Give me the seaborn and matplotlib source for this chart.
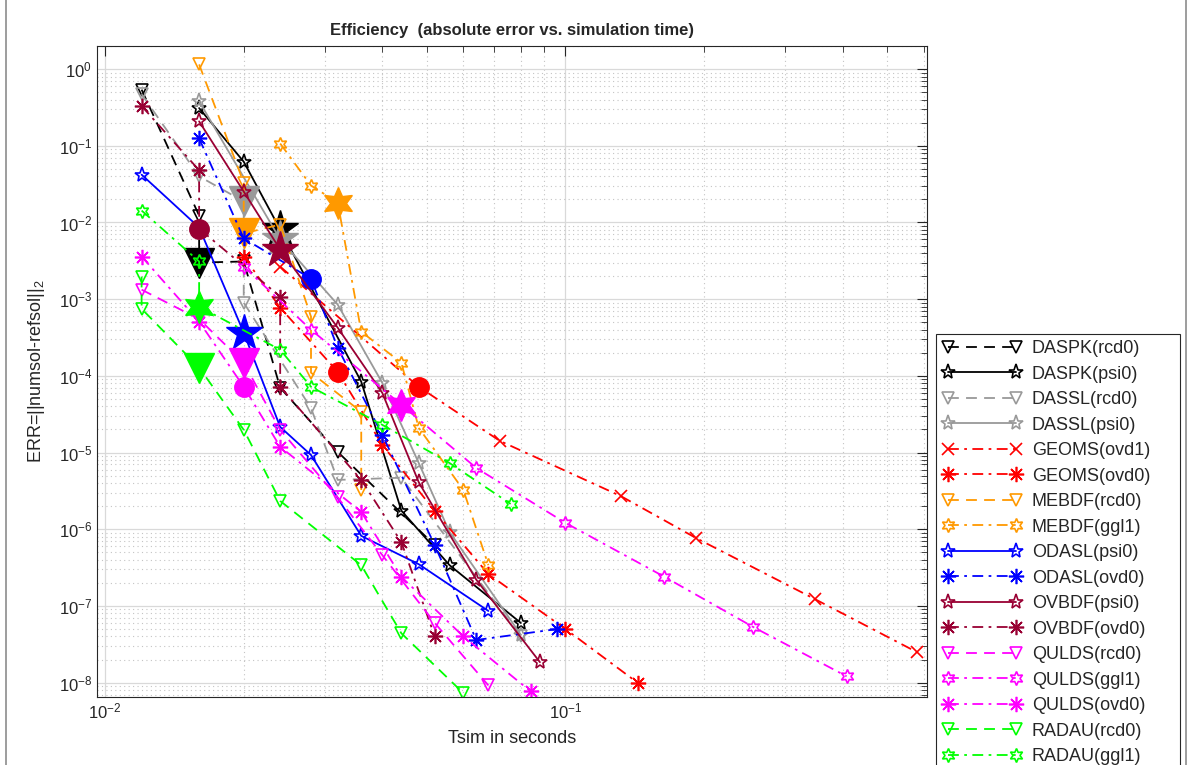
import matplotlib
matplotlib.use("Agg")
import numpy as np
import pandas as pd
import matplotlib.pyplot as plt
from matplotlib.lines import Line2D
from matplotlib.ticker import LogLocator, NullFormatter
import seaborn as sns

# simulation time [s] and error per solver/setting
t_daspk_rcd0 = [0.012, 0.016, 0.016, 0.020, 0.024, 0.032, 0.052]
e_daspk_rcd0 = [0.54, 0.0123, 0.0030, 0.0031, 7.0e-5, 1.02e-5, 6.2e-7]
t_daspk_psi0 = [0.016, 0.020, 0.024, 0.036, 0.044, 0.056, 0.080]
e_daspk_psi0 = [0.31, 0.062, 0.0081, 8.4e-5, 1.75e-6, 3.4e-7, 6.0e-8]
t_dassl_rcd0 = [0.012, 0.016, 0.020, 0.020, 0.028, 0.032, 0.044, 0.080]
e_dassl_rcd0 = [0.47, 0.040, 0.0188, 9.0e-4, 3.8e-5, 4.4e-6, 4.7e-6, 4.0e-8]
t_dassl_psi0 = [0.016, 0.024, 0.032, 0.040, 0.048, 0.056, 0.080]
e_dassl_psi0 = [0.38, 0.0060, 8.5e-4, 8.1e-5, 7.3e-6, 9.2e-7, 4.2e-8]
t_geoms_ovd1 = [0.024, 0.048, 0.072, 0.132, 0.192, 0.348, 0.580]
e_geoms_ovd1 = [0.00266, 7.2e-5, 1.42e-5, 2.7e-6, 7.7e-7, 1.23e-7, 2.5e-8]
t_geoms_ovd0 = [0.020, 0.024, 0.032, 0.040, 0.052, 0.068, 0.100, 0.144]
e_geoms_ovd0 = [0.0036, 7.75e-4, 1.13e-4, 1.26e-5, 1.73e-6, 2.6e-7, 5.0e-8, 9.8e-9]
t_mebdf_rcd0 = [0.016, 0.020, 0.020, 0.024, 0.028, 0.028, 0.036, 0.036]
e_mebdf_rcd0 = [1.15, 0.033, 0.0072, 0.0094, 5.9e-4, 1.1e-4, 3.4e-5, 3.25e-6]
t_mebdf_ggl1 = [0.024, 0.028, 0.032, 0.036, 0.044, 0.048, 0.060, 0.068]
e_mebdf_ggl1 = [0.107, 0.0303, 0.0182, 3.77e-4, 1.48e-4, 2.1e-5, 3.25e-6, 3.4e-7]
t_odasl_psi0 = [0.012, 0.016, 0.020, 0.024, 0.028, 0.036, 0.048, 0.068]
e_odasl_psi0 = [0.042, 0.0086, 3.66e-4, 2.16e-5, 9.3e-6, 8.2e-7, 3.5e-7, 8.6e-8]
t_odasl_ovd0 = [0.016, 0.020, 0.028, 0.032, 0.040, 0.052, 0.064, 0.096]
e_odasl_ovd0 = [0.125, 0.0062, 0.00185, 2.33e-4, 1.70e-5, 6.2e-7, 3.6e-8, 5.0e-8]
t_ovbdf_psi0 = [0.016, 0.020, 0.024, 0.032, 0.040, 0.048, 0.064, 0.088]
e_ovbdf_psi0 = [0.208, 0.0253, 0.00443, 4.25e-4, 6.0e-5, 4.1e-6, 2.2e-7, 1.85e-8]
t_ovbdf_ovd0 = [0.012, 0.016, 0.016, 0.024, 0.024, 0.036, 0.044, 0.052]
e_ovbdf_ovd0 = [0.33, 0.048, 0.0083, 0.00108, 7.2e-5, 4.4e-6, 6.8e-7, 4.0e-8]
t_qulds_rcd0 = [0.012, 0.016, 0.020, 0.024, 0.032, 0.040, 0.052, 0.068]
e_qulds_rcd0 = [0.00133, 5.5e-4, 1.48e-4, 1.98e-5, 2.6e-6, 4.6e-7, 6.0e-8, 9.2e-9]
t_qulds_ggl1 = [0.020, 0.028, 0.044, 0.064, 0.100, 0.164, 0.256, 0.408]
e_qulds_ggl1 = [0.00266, 4.0e-4, 4.2e-5, 6.3e-6, 1.21e-6, 2.4e-7, 5.3e-8, 1.21e-8]
t_qulds_ovd0 = [0.012, 0.016, 0.020, 0.024, 0.036, 0.044, 0.060, 0.084]
e_qulds_ovd0 = [0.0036, 5.1e-4, 7.2e-5, 1.19e-5, 1.68e-6, 2.4e-7, 4.0e-8, 7.7e-9]
t_radau_rcd0 = [0.012, 0.012, 0.016, 0.020, 0.024, 0.036, 0.044, 0.060]
e_radau_rcd0 = [0.00197, 7.5e-4, 1.28e-4, 1.98e-5, 2.34e-6, 3.4e-7, 4.4e-8, 7.3e-9]
t_radau_ggl1 = [0.012, 0.016, 0.016, 0.024, 0.028, 0.040, 0.056, 0.076]
e_radau_ggl1 = [0.0143, 0.0031, 8.0e-4, 2.19e-4, 7.2e-5, 2.3e-5, 7.3e-6, 2.14e-6]

# index of the highlighted (default tolerance) point of each run
hi_idx = [2, 2, 2, 1, 1, 2, 2, 2, 2, 2, 2, 2, 2, 2, 2, 2, 2]

BLACK = "#000000"
GRAY = "#999999"
RED = "#ff0000"
ORANGE = "#ff9900"
BLUE = "#0000ff"
MAROON = "#990033"
MAGENTA = "#ff00ff"
GREEN = "#00ff00"

DASH = (0, (6, 4))
DASHDOT = (0, (6, 3, 1.5, 3))
TRI = "v"
PENT = "*"
HEXA = (6, 1, 0)
AST = (8, 2, 0)

runs = [
    ("DASPK(rcd0)", t_daspk_rcd0, e_daspk_rcd0, BLACK, DASH, TRI),
    ("DASPK(psi0)", t_daspk_psi0, e_daspk_psi0, BLACK, "-", PENT),
    ("DASSL(rcd0)", t_dassl_rcd0, e_dassl_rcd0, GRAY, DASH, TRI),
    ("DASSL(psi0)", t_dassl_psi0, e_dassl_psi0, GRAY, "-", PENT),
    ("GEOMS(ovd1)", t_geoms_ovd1, e_geoms_ovd1, RED, DASHDOT, "x"),
    ("GEOMS(ovd0)", t_geoms_ovd0, e_geoms_ovd0, RED, DASHDOT, AST),
    ("MEBDF(rcd0)", t_mebdf_rcd0, e_mebdf_rcd0, ORANGE, DASH, TRI),
    ("MEBDF(ggl1)", t_mebdf_ggl1, e_mebdf_ggl1, ORANGE, DASHDOT, HEXA),
    ("ODASL(psi0)", t_odasl_psi0, e_odasl_psi0, BLUE, "-", PENT),
    ("ODASL(ovd0)", t_odasl_ovd0, e_odasl_ovd0, BLUE, DASHDOT, AST),
    ("OVBDF(psi0)", t_ovbdf_psi0, e_ovbdf_psi0, MAROON, "-", PENT),
    ("OVBDF(ovd0)", t_ovbdf_ovd0, e_ovbdf_ovd0, MAROON, DASHDOT, AST),
    ("QULDS(rcd0)", t_qulds_rcd0, e_qulds_rcd0, MAGENTA, DASH, TRI),
    ("QULDS(ggl1)", t_qulds_ggl1, e_qulds_ggl1, MAGENTA, DASHDOT, HEXA),
    ("QULDS(ovd0)", t_qulds_ovd0, e_qulds_ovd0, MAGENTA, DASHDOT, AST),
    ("RADAU(rcd0)", t_radau_rcd0, e_radau_rcd0, GREEN, DASH, TRI),
    ("RADAU(ggl1)", t_radau_ggl1, e_radau_ggl1, GREEN, DASHDOT, HEXA),
]

small_ms = {TRI: 9, PENT: 11, HEXA: 10, AST: 11, "x": 9}
big_mk = {TRI: ("v", 21), PENT: ("*", 27), HEXA: (HEXA, 23), AST: ("o", 14), "x": ("o", 14)}

sns.set_theme(style="white")
plt.rcParams["font.family"] = ["Liberation Sans", "DejaVu Sans"]
plt.rcParams["mathtext.fontset"] = "custom"
plt.rcParams["mathtext.rm"] = "Liberation Sans"
plt.rcParams["mathtext.it"] = "Liberation Sans:italic"

fig = plt.figure(figsize=(11.88, 7.65), dpi=100)
ax = fig.add_axes([97 / 1188, 68 / 765, 830 / 1188, 651 / 765])
ax.set_xscale("log")
ax.set_yscale("log")

handles = []
for k, (name, t, e, col, ls, mk) in enumerate(runs):
    df = pd.DataFrame({"t": t, "err": e})
    sns.lineplot(data=df, x="t", y="err", ax=ax, sort=False, estimator=None,
                 color=col, linestyle=ls, linewidth=1.3, marker=mk,
                 markersize=small_ms[mk], markerfacecolor="none",
                 markeredgecolor=col, markeredgewidth=1.2, legend=False)
    handles.append(ax.lines[-1])
    bm, bs = big_mk[mk]
    i = hi_idx[k]
    ax.plot([t[i]], [e[i]], linestyle="none", marker=bm, markersize=bs,
            color=col, markeredgecolor=col)

ax.set_xlim(0.0096, 0.61)
ax.set_ylim(6.5e-9, 2.0)

ax.xaxis.set_minor_locator(LogLocator(base=10, subs=np.arange(2, 10), numticks=20))
ax.yaxis.set_minor_locator(LogLocator(base=10, subs=np.arange(2, 10), numticks=40))
ax.xaxis.set_minor_formatter(NullFormatter())
ax.yaxis.set_minor_formatter(NullFormatter())
ax.yaxis.set_major_locator(LogLocator(base=10, numticks=20))

ax.grid(True, which="major", color="#d9d9d9", linewidth=0.9, linestyle="-")
ax.grid(True, which="minor", color="#c4c4c4", linewidth=0.8, linestyle=(0, (1, 3)))
ax.set_axisbelow(True)

ax.tick_params(which="both", direction="in", top=True, right=True,
               colors="#262626", labelcolor="#262626", labelsize=12)
ax.tick_params(which="major", length=7, width=0.8)
ax.tick_params(which="minor", length=4, width=0.6)
for s in ax.spines.values():
    s.set_color("#262626")
    s.set_linewidth(0.8)

ax.set_xlabel("Tsim in seconds", fontsize=13, color="#262626", labelpad=6)
ax.set_ylabel("ERR=||numsol-refsol||$_2$", fontsize=13, color="#262626", labelpad=8)
ax.set_title("Efficiency  (absolute error vs. simulation time)",
             fontsize=12, fontweight="bold", pad=8)

# the legend runs past the lower edge of the figure, as in the original
leg = ax.legend(handles, [r[0] for r in runs], loc="upper left",
                bbox_to_anchor=(936 / 1188, 1 - 334 / 765, 244 / 1188, 0),
                bbox_transform=fig.transFigure, mode="expand",
                frameon=True, fancybox=False,
                edgecolor="#262626", framealpha=1, fontsize=13,
                handlelength=4.4, handletextpad=0.55, labelspacing=0.47,
                borderpad=0.35, borderaxespad=0, numpoints=2)
leg.get_frame().set_linewidth(0.8)

fig.add_artist(Line2D([6 / 1188, 6 / 1188], [0, 1], color="#8c8c8c", lw=1.2))
fig.add_artist(Line2D([1186 / 1188, 1186 / 1188], [0, 1], color="#8c8c8c", lw=1.2))

fig.savefig("out.png", dpi=100)
